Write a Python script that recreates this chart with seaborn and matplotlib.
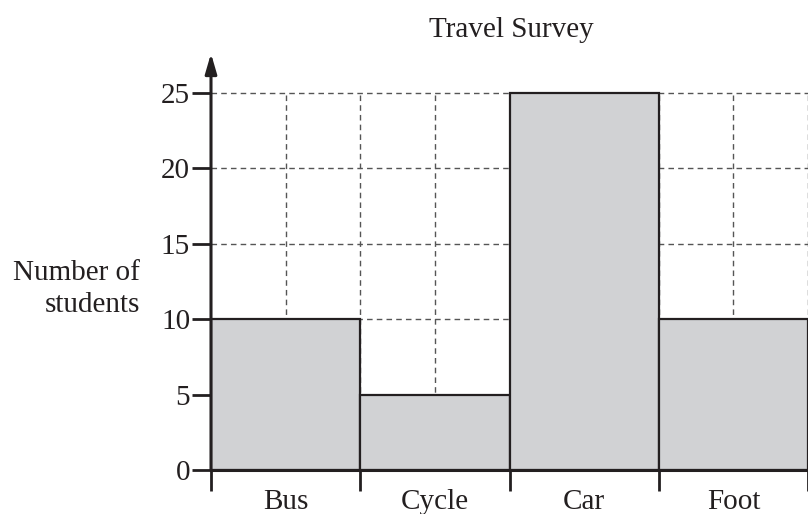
import numpy as np
import pandas as pd
import matplotlib
matplotlib.use("Agg")
import matplotlib.pyplot as plt
import seaborn as sns

modes = ["Bus", "Cycle", "Car", "Foot"]
students = [10, 5, 25, 10]
y_ticks = [0, 5, 10, 15, 20, 25]

sns.set_style("white")
plt.rcParams["font.family"] = ["Liberation Serif", "DejaVu Serif"]

df = pd.DataFrame({"mode": modes, "students": students})

fig = plt.figure(figsize=(8.08, 5.14), dpi=100)
ax = fig.add_axes([211 / 808, 44 / 514, 597 / 808, 415 / 514])

# dashed grid behind the bars, stopping at the top line (25)
dash = dict(color="#555555", lw=1, ls=(0, (4, 3)), zorder=0)
ax.hlines(y_ticks[1:], -0.5, 3.5, **dash)
ax.vlines(np.arange(0, 4, 0.5), 0, 25, **dash)

sns.barplot(data=df, x="mode", y="students", width=1.0, color="#d1d2d4",
            saturation=1, edgecolor="#231f20", linewidth=1.6, ax=ax, zorder=2)

ax.set_xlim(-0.5, 3.44)
ax.set_ylim(0, 27.5)
ax.set_yticks(y_ticks)
ax.set_xticks(range(len(modes)))
ax.set_xticklabels(modes)
ax.set_xticks(np.arange(-0.5, 4, 1), minor=True)
ax.tick_params(axis="x", which="major", bottom=True, length=0, pad=14,
               labelsize=21, labelcolor="#231f20")
ax.tick_params(axis="x", which="minor", bottom=True, length=15, width=2,
               direction="out", color="#231f20")
ax.tick_params(axis="y", left=True, length=14, width=2, direction="out",
               color="#231f20", labelsize=21, labelcolor="#231f20", pad=1)
ax.set_xlabel("")
ax.set_ylabel("")

for s in ["top", "right"]:
    ax.spines[s].set_visible(False)
ax.spines["left"].set_visible(False)
ax.spines["bottom"].set_linewidth(2.2)
ax.spines["bottom"].set_color("#231f20")
ax.spines["bottom"].set_zorder(5)

# y axis with arrow
ax.annotate("", xy=(-0.5, 27.6), xytext=(-0.5, 0), xycoords="data",
            arrowprops=dict(arrowstyle="-|>,head_width=0.35,head_length=1.2",
                            color="#231f20", lw=2.2, shrinkA=0, shrinkB=0),
            annotation_clip=False, zorder=6)

fig.text(140 / 808, 1 - 289 / 514, "Number of\nstudents", ha="right", va="center",
         fontsize=21, color="#231f20", linespacing=1.35)
fig.text(511 / 808, 1 - 30 / 514, "Travel Survey", ha="center", va="center",
         fontsize=21, color="#231f20")

fig.savefig("out.png", dpi=100)
